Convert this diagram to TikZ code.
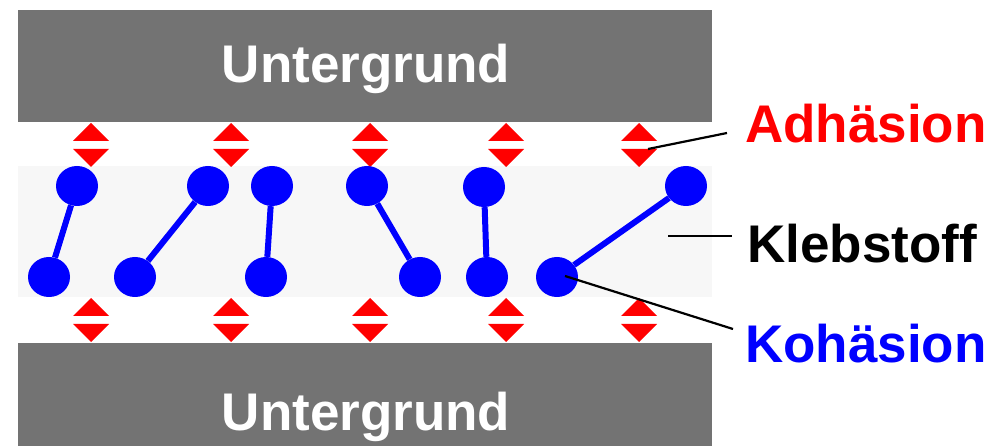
\documentclass[tikz,border=0pt]{standalone}
\usepackage{fontspec}
\setmainfont{Liberation Sans}
\usetikzlibrary{shapes.geometric}
\definecolor{substrate}{HTML}{737373}
\definecolor{glue}{HTML}{F7F7F7}
\definecolor{atomblue}{HTML}{0000FF}
\definecolor{forcered}{HTML}{FF0000}
\tikzset{
  bigtext/.style={font=\bfseries\fontsize{53}{60}\selectfont, inner sep=0pt},
  atom/.style={ellipse, fill=atomblue, minimum width=42pt, minimum height=40pt, inner sep=0pt},
  bond/.style={atomblue, line width=6pt},
  pointer/.style={black, line width=2.2pt},
  pics/arrows2/.style={code={
    \fill[forcered] (-18,-4) -- (0,-22) -- (18,-4) -- cycle;
    \fill[forcered] (-18,4) -- (0,22) -- (18,4) -- cycle;
  }}
}
\begin{document}
\begin{tikzpicture}[x=1pt, y=-1pt]
  \useasboundingbox (0,0) rectangle (988,446);
  % substrates and adhesive layer
  \fill[substrate] (18,10) rectangle (712,122);
  \fill[substrate] (18,343) rectangle (712,446);
  \fill[glue] (18,166) rectangle (712,297);
  \node[bigtext, text=white, anchor=base] (top) at (366,83) {Untergrund};
  \node[bigtext, text=white, anchor=base] (bot) at (366,430) {Untergrund};
  % adhesion markers
  \foreach \x in {91,231,370,506,639} {
    \pic at (\x,145) {arrows2};
    \pic at (\x,320) {arrows2};
  }
  % molecules: two atoms joined by a bond
  \node[atom] (a1) at (77,186) {};  \node[atom] (b1) at (49,277) {};
  \node[atom] (a2) at (208,186) {}; \node[atom] (b2) at (135,277) {};
  \node[atom] (a3) at (272,186) {}; \node[atom] (b3) at (266,277) {};
  \node[atom] (a4) at (367,186) {}; \node[atom] (b4) at (420,277) {};
  \node[atom] (a5) at (484,187) {}; \node[atom] (b5) at (487,277) {};
  \node[atom] (a6) at (686,186) {}; \node[atom] (b6) at (557,277) {};
  \foreach \i in {1,...,6} \draw[bond] (a\i) -- (b\i);
  % labels
  \node[bigtext, text=forcered, anchor=base west] (adh) at (745,143) {Adhäsion};
  \node[bigtext, text=black, anchor=base west] (kleb) at (747,263) {Klebstoff};
  \node[bigtext, text=atomblue, anchor=base west] (koh) at (745,362) {Kohäsion};
  \coordinate (adhtip) at (648,149);
  \coordinate (adhend) at (727,133);
  \coordinate (klebtip) at (668,236);
  \coordinate (klebend) at (732,236);
  \coordinate (kohend) at (733,329);
  \draw[pointer] (adhtip) -- (adhend);
  \draw[pointer] (klebtip) -- (klebend);
  \draw[pointer] ([xshift=8pt,yshift=1pt]b6.center) -- (kohend);
\end{tikzpicture}
\end{document}
